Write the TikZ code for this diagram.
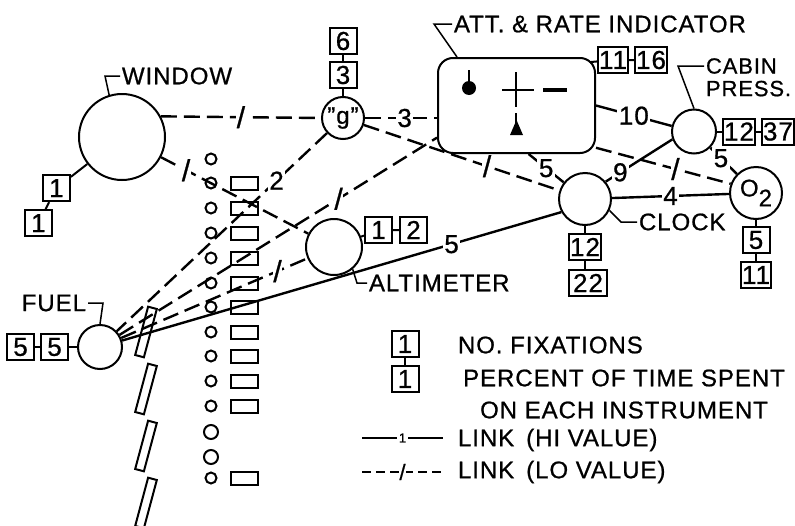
\documentclass[tikz,border=0pt]{standalone}
\usepackage{fontspec}
\setmainfont{Liberation Sans}[LetterSpace=4, FakeBold=0.8]
\usetikzlibrary{positioning,calc}

\begin{document}
\begin{tikzpicture}[x=1pt, y=-1pt, line width=2pt,
  every node/.style={font=\fontsize{24}{24}\selectfont, inner sep=1pt},
  inst/.style={draw, circle, inner sep=0pt, fill=white},
  cnt/.style={draw, minimum width=27pt, minimum height=26pt, inner sep=1pt,
    font=\fontsize{26}{26}\selectfont},
  hi/.style={line width=2.4pt},
  lo/.style={line width=2.4pt, dash pattern=on 16pt off 7pt},
  val/.style={fill=white, inner sep=1.5pt, font=\fontsize{26}{26}\selectfont},
  slash/.style={fill=white, inner sep=0.5pt, font=\fontsize{30}{30}\selectfont},
  lead/.style={line width=1.5pt}]
  \useasboundingbox (0,0) rectangle (795,525);

  % panel lamps, gauges and window frame
  \foreach \y in {159,183,208,233,258,283,307,332,356,381,406,478}
    \draw (211,\y) circle (5.5);
  \foreach \y in {432,457}
    \draw (211,\y) circle (7);
  \foreach \y in {183,208,233,258,283,307,332,356,381,406,478}
    \draw (231,\y-6.5) rectangle (258,\y+6.5);
  \foreach \y in {332,389,446,503}
    \node[draw, minimum width=9pt, minimum height=50pt, inner sep=0pt,
      rotate=-15] (pane\y) at (146,\y) {};

  % instruments
  \node[inst, minimum size=86pt] (win) at (122,137) {};
  \node[inst, minimum size=42pt] (g) at (343,118) {"g"};
  \node[draw, fill=white, rounded corners=15pt, minimum width=157pt,
    minimum height=95pt] (att) at (516.5,105.5) {};
  \node[inst, minimum size=44pt] (cab) at (694,131.5) {};
  \node[inst, minimum size=52pt] (clk) at (585,199) {};
  \node[inst, minimum size=52pt] (otwo) at (756,193) {O\raisebox{-10pt}{2}};
  \node[inst, minimum size=56pt] (alt) at (334,247) {};
  \node[inst, minimum size=44pt] (fuel) at (100,347) {};

  % attitude indicator face
  \fill (469,88) circle (7);
  \draw (469,88) -- (469,70);
  \draw (502,90) -- (534,90);
  \draw (516,72) -- (516,107);
  \draw (516,113) -- (516,124);
  \fill (510,135) -- (523,135) -- (516.5,120) -- cycle;
  \draw[line width=3.5pt] (543,90) -- (567,90);

  % fixations / percent boxes
  \node[cnt, below left=6pt and 20pt of win] (win1) {1};
  \node[cnt, below=7pt of win1, xshift=-18pt] (win2) {1};
  \draw (win) -- (win1) -- (win2);
  \node[cnt, above=7pt of g] (g3) {3};
  \node[cnt, above=6pt of g3] (g6) {6};
  \draw (g) -- (g3) -- (g6);
  \node[cnt] (att11) at (613,60) {11};
  \node[cnt, right=5pt of att11] (att16) {16};
  \draw ($(att.north east)+(-5,5)$) -- (att11) -- (att16);
  \node[cnt, right=5pt of cab] (cab12) {12};
  \node[cnt, right=5pt of cab12] (cab37) {37};
  \draw (cab) -- (cab12) -- (cab37);
  \node[cnt, below=7pt of clk] (clk12) {12};
  \node[cnt, minimum width=38pt, below=8pt of clk12.south west,
    anchor=north west] (clk22) {22};
  \draw (clk) -- (clk12) -- (clk12 |- clk22.north);
  \node[cnt, below=6pt of otwo] (otwo5) {5};
  \node[cnt, below=7pt of otwo5] (otwo11) {11};
  \draw (otwo) -- (otwo5) -- (otwo11);
  \node[cnt, right=1pt of alt, yshift=17pt] (alt1) {1};
  \node[cnt, right=6pt of alt1] (alt2) {2};
  \draw (alt) -- (alt1) -- (alt2);
  \node[cnt, left=8pt of fuel] (fuel5b) {5};
  \node[cnt, left=5pt of fuel5b] (fuel5a) {5};
  \draw (fuel) -- (fuel5b) -- (fuel5a);

  % names
  \node[anchor=west] (winlbl) at (120,76) {WINDOW};
  \node[anchor=west] (attlbl) at (452,24) {ATT. \& RATE INDICATOR};
  \node[anchor=west, font=\fontsize{22}{22}\selectfont] (cablbl) at (704,66) {CABIN};
  \node[below=3pt of cablbl.south west, anchor=north west,
    font=\fontsize{22}{22}\selectfont] (preslbl) {PRESS.};
  \node[anchor=west] (clklbl) at (637,222) {CLOCK};
  \node[anchor=west] (altlbl) at (367,283) {ALTIMETER};
  \node[anchor=east] (fuellbl) at (88,303) {FUEL};
  \draw[lead] (winlbl.west) -- ++(-15,0) -- (win.107);
  \draw[lead] (attlbl.west) -- ++(-18,0) -- ($(att.north west)+(20,0)$);
  \draw[lead] (cablbl.west) -- ++(-26,0) -- (cab.north);
  \draw[lead] (clklbl.west) -- ++(-16,0) -- (clk.-25);
  \draw[lead] (altlbl.west) -- ++(-10,0) -- (alt.-50);
  \draw[lead] (fuellbl.east) -- ++(15,0) -- (fuel.north);

  % links
  \draw[lo] (win.28) -- node[slash, pos=0.5] (s1) {/} (g.west);
  \draw[lo] (win) -- node[slash, pos=0.17] (s2) {/} (alt);
  \draw[lo] (g) -- node[val, pos=0.24] (v2) {2} (fuel);
  \draw[lo] (g.east) -- node[val, pos=0.55] (v3) {3} (att.west |- g.east);
  \draw[lo] (g) -- node[slash, pos=0.63] (s3) {/} (clk);
  \draw[lo] (fuel) -- node[slash, pos=0.69] (s4) {/} (att.202);
  \draw[lo] (fuel) -- node[slash, pos=0.84] (s5) {/} (alt);
  \draw[lo] (att.-28) -- node[slash, pos=0.59] (s6) {/} (otwo.160);
  \draw[hi] (fuel) -- node[val, pos=0.75] (v5a) {5} (clk.209);
  \draw[hi] (att.-76) -- node[val] (v5b) {5} (clk.142);
  \draw[hi] (att.east) -- node[val] (v10) {10} (cab.166);
  \draw[hi] (clk.40) -- node[val, pos=0.22] (v9) {9} (cab.200);
  \draw[hi] (cab) -- node[val, pos=0.4] (v5c) {5} (otwo);
  \draw[hi] (clk) -- node[val] (v4) {4} (otwo);

  % legend
  \node[cnt] (leg1) at (405,344) {1};
  \node[cnt, below=7pt of leg1] (leg2) {1};
  \draw (leg1) -- (leg2);
  \node[anchor=west] (legfix) at (456,345) {NO. FIXATIONS};
  \node[align=center, font=\fontsize{24}{32}\selectfont] (legpct) at (624,394)
    {PERCENT OF TIME SPENT\\ON EACH INSTRUMENT};
  \coordinate (hiA) at (362,438);
  \coordinate (hiB) at (443,438);
  \draw[hi, line width=2pt] (hiA) -- node[val, font=\fontsize{13}{13}\selectfont]
    (leghi) {1} (hiB);
  \node[anchor=west] (leghitxt) at (456,440) {LINK\hspace{12pt}(HI VALUE)};
  \coordinate (loA) at (362,472);
  \coordinate (loB) at (443,472);
  \draw[lo, line width=2pt, dash pattern=on 9pt off 5pt] (loA)
    -- node[slash, font=\fontsize{22}{22}\selectfont] (leglo) {/} (loB);
  \node[anchor=west] (leglotxt) at (456,472) {LINK\hspace{12pt}(LO VALUE)};
\end{tikzpicture}
\end{document}
